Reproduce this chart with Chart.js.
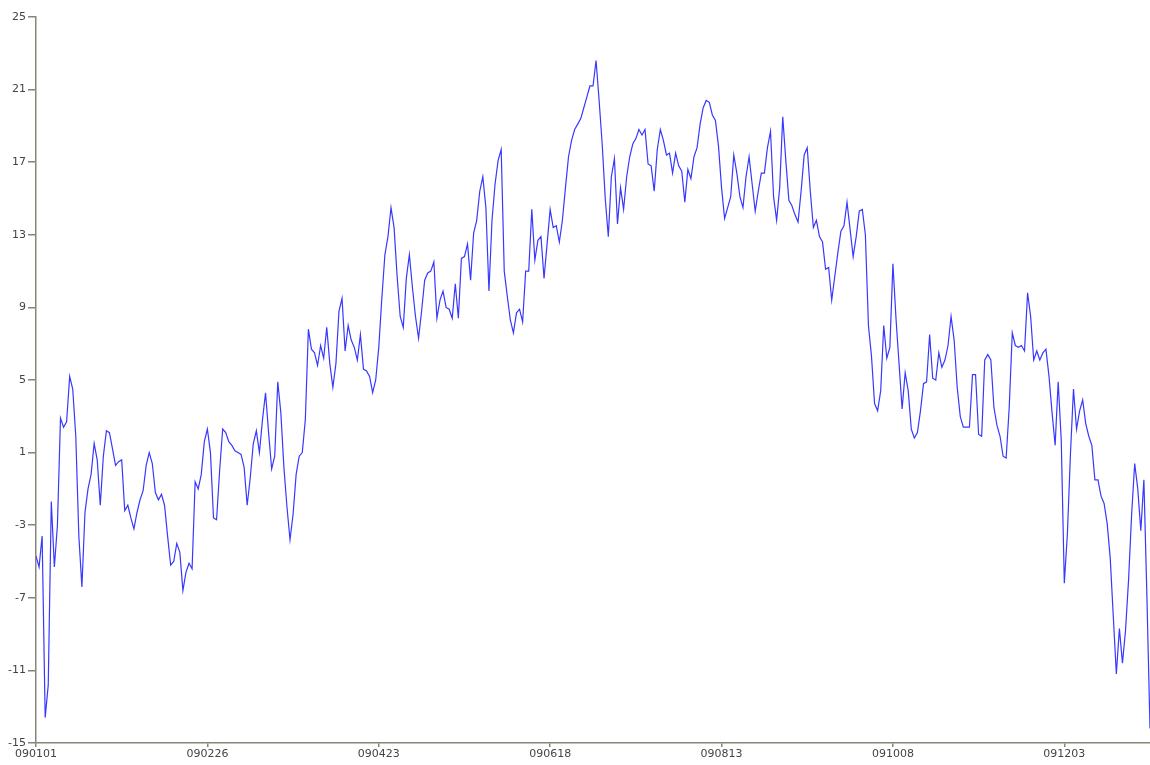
<!DOCTYPE html>
<html>
<head>
<meta charset="utf-8">
<script src="https://cdn.jsdelivr.net/npm/chart.js@4.4.1/dist/chart.umd.min.js"></script>
<style>
  html, body { margin: 0; padding: 0; background: #ffffff; }
  #wrap { width: 1150px; height: 765px; }
</style>
</head>
<body>
<div id="wrap"><canvas id="c" width="1150" height="765"></canvas></div>
<script>
// Daily mean temperature for 2009, one value per day (day 0 = 090101)
const dailyTemp = [
  -4.7, -5.3, -3.6, -13.6, -11.8, -1.7, -5.3, -3.0, 2.9, 2.4,
  2.7, 5.2, 4.5, 1.9, -3.6, -6.4, -2.3, -1.0, -0.2, 1.5,
  0.6, -1.9, 0.8, 2.2, 2.1, 1.2, 0.3, 0.5, 0.6, -2.2,
  -1.9, -2.6, -3.2, -2.3, -1.6, -1.1, 0.3, 1.0, 0.4, -1.2,
  -1.6, -1.3, -1.9, -3.6, -5.2, -5.0, -4.0, -4.5, -6.6, -5.6,
  -5.1, -5.4, -0.6, -1.0, -0.2, 1.6, 2.3, 1.0, -2.6, -2.7,
  0.0, 2.3, 2.1, 1.6, 1.4, 1.1, 1.0, 0.9, 0.2, -1.9,
  -0.4, 1.5, 2.2, 1.0, 2.8, 4.3, 2.1, 0.1, 0.8, 4.9,
  3.2, 0.2, -2.0, -3.8, -2.4, -0.2, 0.8, 1.0, 2.8, 7.8,
  6.7, 6.5, 5.8, 6.9, 6.2, 7.9, 5.9, 4.6, 5.9, 8.8,
  9.5, 6.6, 8.0, 7.2, 6.8, 6.1, 7.5, 5.6, 5.5, 5.2,
  4.3, 5.0, 6.8, 9.5, 11.9, 12.9, 14.5, 13.4, 10.7, 8.5,
  7.9, 10.6, 11.9, 10.1, 8.5, 7.3, 8.8, 10.5, 10.9, 11.0,
  11.5, 8.4, 9.4, 9.9, 9.0, 8.9, 8.4, 10.3, 8.4, 11.7,
  11.8, 12.5, 10.5, 13.1, 13.8, 15.4, 16.2, 14.5, 9.9, 13.8,
  15.8, 17.1, 17.7, 11.0, 9.6, 8.3, 7.6, 8.7, 8.9, 8.2,
  11.0, 11.0, 14.4, 11.6, 12.7, 12.9, 10.6, 12.5, 14.4, 13.4,
  13.5, 12.6, 13.8, 15.6, 17.3, 18.2, 18.8, 19.1, 19.4, 20.0,
  20.6, 21.2, 21.2, 22.6, 20.4, 18.0, 15.0, 12.9, 16.2, 17.2,
  13.6, 15.6, 14.4, 16.2, 17.3, 18.0, 18.3, 18.8, 18.5, 18.8,
  16.9, 16.8, 15.4, 17.7, 18.8, 18.2, 17.4, 17.5, 16.4, 17.5,
  16.8, 16.5, 14.8, 16.6, 16.1, 17.3, 17.8, 19.1, 20.0, 20.4,
  20.3, 19.6, 19.3, 17.9, 15.6, 13.9, 14.5, 15.1, 17.4, 16.4,
  15.1, 14.5, 16.2, 17.3, 15.8, 14.3, 15.4, 16.4, 16.4, 17.8,
  18.7, 15.1, 13.8, 15.6, 19.5, 17.1, 14.9, 14.6, 14.1, 13.7,
  15.4, 17.4, 17.8, 15.4, 13.4, 13.8, 12.9, 12.6, 11.1, 11.2,
  9.4, 10.7, 12.0, 13.2, 13.5, 14.8, 13.3, 11.8, 12.9, 14.3,
  14.4, 13.0, 8.0, 6.3, 3.7, 3.3, 4.4, 8.0, 6.2, 6.8,
  11.4, 8.4, 5.9, 3.4, 5.4, 4.4, 2.3, 1.8, 2.1, 3.3,
  4.8, 4.9, 7.5, 5.1, 5.0, 6.5, 5.7, 6.1, 6.9, 8.5,
  7.2, 4.6, 3.0, 2.4, 2.4, 2.4, 5.3, 5.3, 2.0, 1.9,
  6.1, 6.4, 6.1, 3.5, 2.5, 1.9, 0.8, 0.7, 3.5, 7.6,
  6.9, 6.8, 6.9, 6.6, 9.8, 8.5, 6.1, 6.6, 6.1, 6.5,
  6.7, 5.2, 3.2, 1.4, 4.9, 1.7, -6.2, -3.5, 0.9, 4.5,
  2.3, 3.3, 3.9, 2.6, 1.9, 1.4, -0.5, -0.5, -1.4, -1.8,
  -2.9, -4.8, -8.0, -11.2, -8.7, -10.6, -8.8, -6.0, -2.4, 0.4,
  -1.0, -3.3, -0.5, -7.0, -14.2
];

// Date ticks every 56 days along the x axis
const tickDays = [0, 56, 112, 168, 224, 280, 336];
const tickLabels = ['090101', '090226', '090423', '090618', '090813', '091008', '091203'];

// Value ticks on the y axis
const yTicks = [-15, -11, -7, -3, 1, 5, 9, 13, 17, 21, 25];

const points = dailyTemp.map((v, i) => ({ x: i, y: v }));

const axisColor = '#85857a';
const labelColor = '#444444';
const labelFont = { family: 'DejaVu Sans', size: 11 };

new Chart(document.getElementById('c'), {
  type: 'line',
  data: {
    datasets: [{
      data: points,
      borderColor: '#3838ff',
      borderWidth: 1.2,
      pointRadius: 0,
      tension: 0,
      fill: false
    }]
  },
  options: {
    responsive: false,
    animation: false,
    devicePixelRatio: 1,
    layout: { padding: { top: 17, right: 0, left: 0, bottom: 0 } },
    plugins: { legend: { display: false }, tooltip: { enabled: false } },
    scales: {
      x: {
        type: 'linear',
        min: 0,
        max: dailyTemp.length - 1,
        afterBuildTicks(s) { s.ticks = tickDays.map(v => ({ value: v })); },
        afterFit(s) { s.height = 22; },
        ticks: {
          callback: (v, i) => tickLabels[i],
          autoSkip: false,
          maxRotation: 0,
          color: labelColor,
          font: labelFont,
          padding: 1
        },
        grid: { drawOnChartArea: false, drawTicks: true, tickLength: 4, color: axisColor, lineWidth: 1.5 },
        border: { display: true, color: axisColor, width: 1.5 }
      },
      y: {
        type: 'linear',
        min: -15,
        max: 25,
        afterBuildTicks(s) { s.ticks = yTicks.map(v => ({ value: v })); },
        afterFit(s) { s.width = 36; },
        ticks: {
          autoSkip: false,
          color: labelColor,
          font: labelFont,
          padding: 2
        },
        grid: { drawOnChartArea: false, drawTicks: true, tickLength: 8, color: axisColor, lineWidth: 1.5 },
        border: { display: true, color: axisColor, width: 1.5 }
      }
    }
  }
});
</script>
</body>
</html>
